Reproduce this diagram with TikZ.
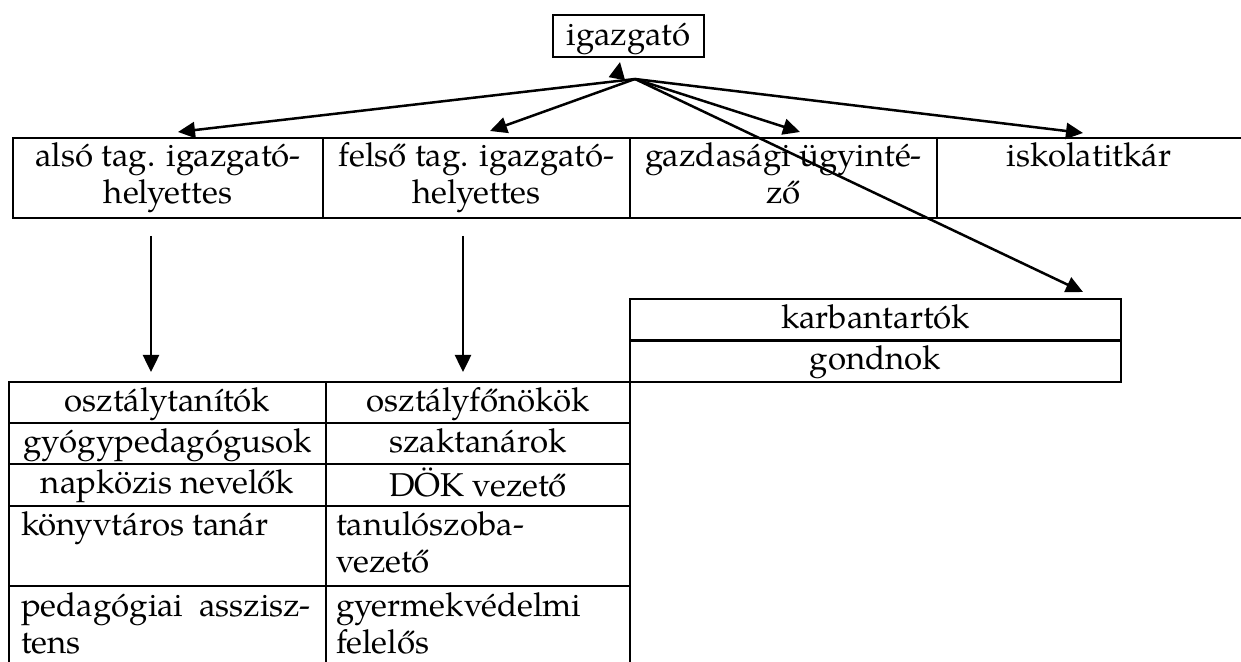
\documentclass[tikz,border=0pt]{standalone}
\usepackage{fontspec}
\setmainfont{TeX Gyre Pagella}
\usetikzlibrary{arrows.meta}
\begin{document}
\begin{tikzpicture}[x=0.5pt,y=-0.5pt,line width=1.25pt,
  cell/.style={draw,rectangle,inner sep=0pt,outer sep=0pt},
  lbl/.style={inner sep=0pt,outer sep=0pt,anchor=north,align=center,font=\fontsize{16.5}{18.5}\selectfont},
  lbll/.style={lbl,anchor=north west,align=left},
  arr/.style={-{Triangle[length=8.5pt,width=8pt]},line width=1.25pt}]
\useasboundingbox (0,0) rectangle (1241,662);

% director
\node[cell,minimum width=75.5pt,minimum height=21pt] (igbox) at (628.5,36) {};
\node[lbl] (ig) at (628.5,20) {\strut igazgató};

% top row
\node[cell,minimum width=155pt,minimum height=40pt] (c1) at (168,178) {};
\node[cell,minimum width=153.5pt,minimum height=40pt] (c2) at (476.5,178) {};
\node[cell,minimum width=153.5pt,minimum height=40pt] (c3) at (783.5,178) {};
\node[cell,minimum width=166.5pt,minimum height=40pt] (c4) at (1103.5,178) {};
\node[lbl] (t1) at (168,141) {\strut alsó tag. igazgató-\\\strut helyettes};
\node[lbl] (t2) at (476.5,141) {\strut felső tag. igazgató-\\\strut helyettes};
\node[lbl] (t3) at (783.5,141) {\strut gazdasági ügyinté-\\\strut ző};
\node[lbl] (t4) at (1089,141) {\strut iskolatitkár};

% maintenance
\node[cell,minimum width=245.5pt,minimum height=20.75pt] (k1) at (875.5,319.75) {};
\node[cell,minimum width=245.5pt,minimum height=20.75pt] (k2) at (875.5,361.25) {};
\node[lbl] (kt1) at (875.5,303) {\strut karbantartók};
\node[lbl] (kt2) at (875.5,344) {\strut gondnok};

% bottom table cells
\node[cell,minimum width=158.5pt,minimum height=20.5pt] (b11) at (167.5,402.5) {};
\node[cell,minimum width=158.5pt,minimum height=20.5pt] (b21) at (167.5,443.5) {};
\node[cell,minimum width=158.5pt,minimum height=21pt] (b31) at (167.5,485) {};
\node[cell,minimum width=158.5pt,minimum height=40pt] (b41) at (167.5,546) {};
\node[cell,minimum width=158.5pt,minimum height=57pt] (b51) at (167.5,643) {};
\node[cell,minimum width=152pt,minimum height=20.5pt] (b12) at (478,402.5) {};
\node[cell,minimum width=152pt,minimum height=20.5pt] (b22) at (478,443.5) {};
\node[cell,minimum width=152pt,minimum height=21pt] (b32) at (478,485) {};
\node[cell,minimum width=152pt,minimum height=40pt] (b42) at (478,546) {};
\node[cell,minimum width=152pt,minimum height=57pt] (b52) at (478,643) {};

% bottom table texts
\node[lbl] (s11) at (167.5,386) {\strut osztálytanítók};
\node[lbl] (s12) at (478,386) {\strut osztályfőnökök};
\node[lbl] (s21) at (167.5,427) {\strut gyógypedagógusok};
\node[lbl] (s22) at (478,427) {\strut szaktanárok};
\node[lbl] (s31) at (167.5,468) {\strut napközis nevelők};
\node[lbl] (s32) at (478,468) {\strut DÖK vezető};
\node[lbll] (s41) at (21,510) {\strut könyvtáros tanár};
\node[lbll] (s42) at (336,510) {\strut tanulószoba-\\\strut vezető};
\node[lbll] (s51) at (21,591) {\makebox[145pt][s]{\strut pedagógiai asszisz-}\\\strut tens};
\node[lbll] (s52) at (336,591) {\strut gyermekvédelmi\\\strut felelős};

% connectors
\coordinate (hub) at (635,79);
\coordinate (a1) at (178,132);
\coordinate (a2) at (490,131);
\coordinate (a3) at (800,132);
\coordinate (a4) at (1083,133);
\coordinate (a5) at (1083,292);
\coordinate (igs) at (617,78);
\coordinate (ige) at (620,62);
\draw[arr] (hub) -- (a1);
\draw[arr] (hub) -- (a2);
\draw[arr] (hub) -- (a3);
\draw[arr] (hub) -- (a4);
\draw[arr] (hub) -- (a5);
\draw[arr] (igs) -- (ige);

\coordinate (v1s) at (151,236);
\coordinate (v1e) at (151,372);
\coordinate (v2s) at (463,236);
\coordinate (v2e) at (463,372);
\draw[arr] (v1s) -- (v1e);
\draw[arr] (v2s) -- (v2e);
\end{tikzpicture}
\end{document}
